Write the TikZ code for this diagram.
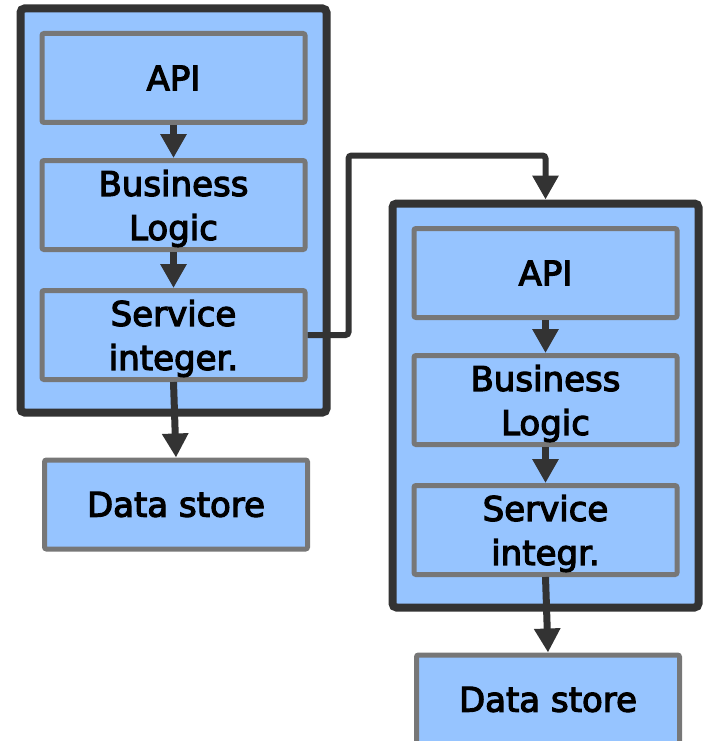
\documentclass[tikz,border=0pt]{standalone}
\usepackage{fontspec}
\setmainfont{DejaVu Sans}
\newfontfamily\layerfont{DejaVu Sans}[BoldFont={DejaVu Sans},BoldFeatures={FakeBold=3.5}]
\usetikzlibrary{arrows.meta,positioning}

\definecolor{tierblue}{HTML}{96C4FF}
\definecolor{edgedark}{HTML}{333333}
\definecolor{edgegray}{HTML}{777777}

\begin{document}
\begin{tikzpicture}[x=1pt,y=-1pt,
    tier/.style={draw=edgedark,line width=8pt,fill=tierblue,rounded corners=4pt,
      minimum width=306pt,minimum height=404pt,inner sep=0pt},
    layer/.style={draw=edgegray,line width=5pt,fill=tierblue,rounded corners=2pt,
      minimum width=263pt,minimum height=89pt,inner sep=0pt,align=center,
      font=\layerfont\bfseries\fontsize{34}{44}\selectfont},
    twolines/.style={layer,text depth=0pt},
    flow/.style={draw=edgedark,line width=7pt,-{Triangle[length=24pt,width=25pt]}}]
  \useasboundingbox (0,0) rectangle (703,741);
  % one stack per service, the second one sits lower and to the right
  \foreach \s/\dx/\dy/\t in {A/0/0/integer., B/372/195/integr.} {
    \node[tier] (tier\s) at (173.5+\dx,210.5+\dy) {};
    \node[layer] (api\s) at (173.5+\dx,78+\dy) {API};
    \node[twolines] (biz\s) at (173.5+\dx,205+\dy) {Business\\Logic};
    \node[twolines] (svc\s) at (173.5+\dx,335+\dy) {Service\\\t};
    \node[layer] (data\s) at (176+\dx,504.5+\dy) {Data store};
    \draw[flow] (api\s.south) -- (biz\s.north);
    \draw[flow] (biz\s.south) -- (svc\s.north);
    \draw[flow] (svc\s.south) -- (data\s.north);
  }
  % call from the first stack into the second
  \draw[flow,line width=6pt,rounded corners=3pt] (svcA.east) -- ++(41,0)
    |- ([yshift=44pt]tierB.north) -- (tierB.north);
\end{tikzpicture}
\end{document}
